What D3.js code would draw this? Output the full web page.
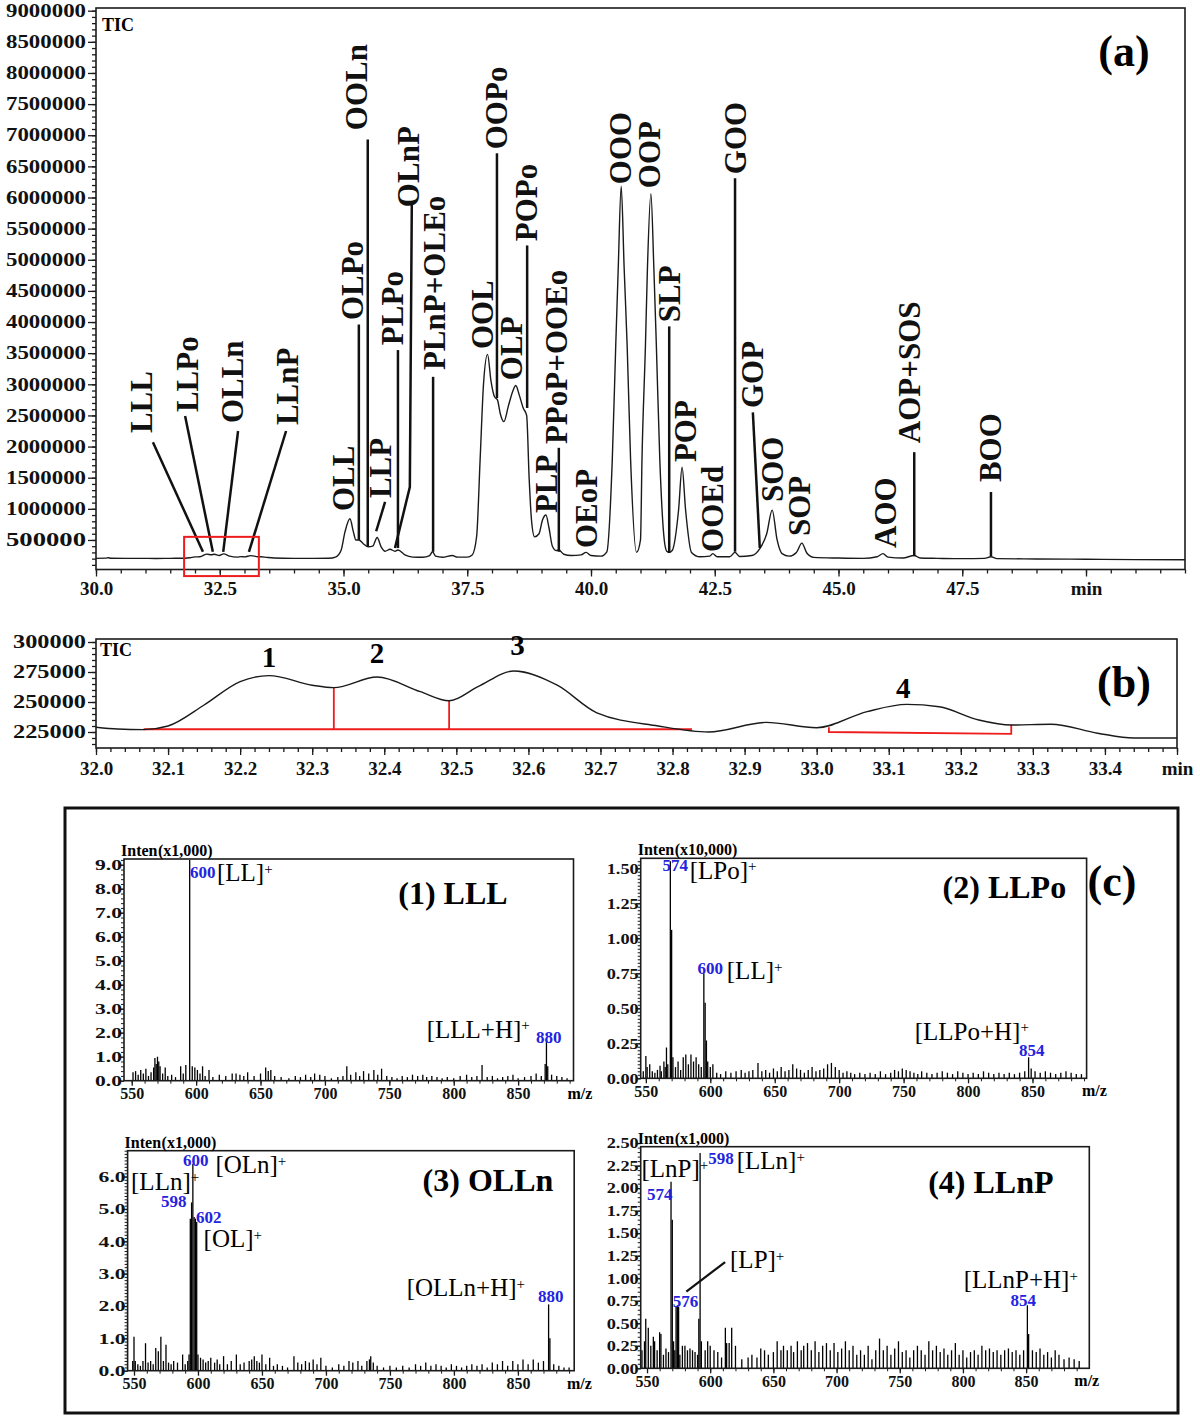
<!DOCTYPE html>
<html><head><meta charset="utf-8">
<script src="https://cdnjs.cloudflare.com/ajax/libs/d3/7.8.5/d3.min.js"></script>
<style>
html,body{margin:0;padding:0;background:#fff;}
svg{display:block;}
text{font-family:'Liberation Serif','Times New Roman',serif;}
</style></head><body>
<svg id="fig" width="1200" height="1426" xmlns="http://www.w3.org/2000/svg"></svg>
<script>
// ================= DATA =================
// Panel (a): TIC chromatogram, [retention time (min), intensity]
const ticA = [
 [30.0,205000],[30.2,208000],[30.25,215000],[30.3,206000],[30.6,204000],[30.9,205000],[31.2,203000],[31.5,205000],[31.8,207000],
 [31.9,215000],[32.0,228000],[32.1,230000],[32.24,272000],[32.33,262000],[32.39,271000],[32.49,251000],[32.58,276000],[32.7,240000],
 [32.85,225000],[32.93,233000],[33.0,228000],[33.13,248000],[33.27,231000],[33.33,231000],[33.45,220000],[33.6,210000],[34.0,205000],
 [34.4,204000],[34.7,206000],[34.85,230000],[34.95,330000],[35.03,630000],[35.13,840000],[35.2,630000],[35.25,500000],[35.31,500000],
 [35.4,440000],[35.5,390000],[35.59,400000],[35.68,540000],[35.76,390000],[35.84,320000],[35.94,350000],[36.04,320000],[36.1,340000],
 [36.24,260000],[36.4,225000],[36.6,222000],[36.74,250000],[36.8,310000],[36.86,240000],[37.0,222000],[37.2,250000],[37.3,225000],
 [37.5,225000],[37.6,260000],[37.69,560000],[37.76,1790000],[37.83,3020000],[37.91,3480000],[37.98,3050000],[38.05,2800000],
 [38.11,2750000],[38.17,2520000],[38.24,2400000],[38.33,2650000],[38.42,2890000],[38.48,2980000],[38.55,2830000],[38.63,2620000],
 [38.7,2500000],[38.75,1500000],[38.8,800000],[38.86,550000],[38.95,600000],[39.02,820000],[39.09,900000],[39.15,700000],[39.22,400000],
 [39.3,330000],[39.35,340000],[39.45,270000],[39.6,250000],[39.8,260000],[39.9,300000],[40.0,250000],[40.2,240000],
 [40.32,310000],[40.43,1790000],[40.5,3630000],[40.55,4860000],[40.61,6180000],[40.67,4860000],[40.73,3630000],[40.8,1790000],[40.92,300000],
 [41.0,500000],[41.03,1790000],[41.1,3630000],[41.14,4860000],[41.21,6060000],[41.27,4860000],[41.32,3630000],[41.39,1790000],[41.48,500000],
 [41.53,320000],[41.58,300000],[41.64,330000],[41.77,990000],[41.84,1670000],[41.91,990000],[42.03,300000],[42.2,230000],[42.4,240000],
 [42.46,280000],[42.55,230000],[42.8,230000],[42.91,300000],[43.0,235000],[43.25,250000],[43.41,360000],[43.55,600000],[43.66,980000],
 [43.76,500000],[43.86,280000],[44.0,240000],[44.15,300000],[44.26,450000],[44.36,290000],[44.5,220000],[45.0,210000],[45.5,205000],
 [45.78,230000],[45.9,280000],[46.0,225000],[46.3,210000],[46.53,250000],[46.65,210000],[47.0,205000],[47.5,200000],[47.95,205000],
 [48.08,230000],[48.2,200000],[49.0,195000],[50.0,190000],[51.0,185000],[52.0,182000]
];
const aYTicks = [500000,1000000,1500000,2000000,2500000,3000000,3500000,4000000,4500000,5000000,5500000,6000000,6500000,7000000,7500000,8000000,8500000,9000000];
const aXTicks = [30,32.5,35,37.5,40,42.5,45,47.5,50];
const aXTickLabels = ["30.0","32.5","35.0","37.5","40.0","42.5","45.0","47.5","min"];

// peak labels in (a): name, retention time of label, intensity at label foot
const aLabels   = ["LLL","LLPo","OLLn","LLnP","OLL","OLPo","OOLn","LLP","PLPo","OLnP","PLnP+OLEo","OOL","OOPo","OLP","POPo","PLP","PPoP+OOEo","OEoP","OOO","OOP","SLP","POP","OOEd","GOO","GOP","SOO","SOP","AOO","AOP+SOS","BOO"];
const aLabelRt  = [30.91,31.84,32.75,33.86,34.99,35.19,35.27,35.74,35.98,36.32,36.83,37.80,38.08,38.40,38.69,39.09,39.31,39.90,40.59,41.19,41.58,41.90,42.46,42.91,43.27,43.66,44.22,45.94,46.44,48.06];
const aLabelFoot= [2217000,2554000,2377000,2345000,964000,4031000,7081000,1173000,3629000,5845000,3228000,3565000,6775000,3067000,5298000,932000,2040000,371000,6213000,6149000,3998000,1751000,307000,6374000,2618000,1109000,563000,371000,2055000,1430000];
// leader lines in (a): polyline of [rt, intensity]
const aLeaders = [
 [[31.15,2070000],[32.16,310000]],
 [[31.80,2490000],[32.36,310000]],
 [[32.87,2250000],[32.57,310000]],
 [[33.84,2250000],[33.09,310000]],
 [[35.31,3960000],[35.31,500000]],
 [[35.49,6930000],[35.49,400000]],
 [[35.84,1110000],[35.66,640000]],
 [[36.10,3550000],[36.10,370000]],
 [[36.38,5910000],[36.34,1350000],[36.04,370000]],
 [[36.81,3120000],[36.81,310000]],
 [[38.10,6710000],[38.10,2780000]],
 [[38.71,5230000],[38.71,2620000]],
 [[39.35,1980000],[39.35,310000]],
 [[41.58,3930000],[41.58,290000]],
 [[42.91,6310000],[42.91,310000]],
 [[43.27,2550000],[43.41,370000]],
 [[46.53,1910000],[46.53,240000]],
 [[48.08,1270000],[48.08,240000]]
];
const aZoomBox = [[31.78,-80000],[33.29,550000]];

// Panel (b): zoomed TIC 32.0-33.5 min
const ticB = [
 [32.0,229000],[32.03,227500],[32.066,227000],[32.1,230000],[32.15,247500],[32.2,267000],[32.24,272000],[32.3,264000],[32.33,262000],
 [32.39,270800],[32.45,258600],[32.49,251000],[32.53,262800],[32.58,275800],[32.64,264000],[32.695,241000],[32.78,230000],[32.85,225000],
 [32.93,233000],[33.0,228600],[33.07,242000],[33.125,248000],[33.17,246000],[33.225,235000],[33.27,230800],[33.325,231500],[33.39,224000],
 [33.44,220000],[33.5,220000]
];
const bYTicks = [225000,250000,275000,300000];
const bXTicks = [32.0,32.1,32.2,32.3,32.4,32.5,32.6,32.7,32.8,32.9,33.0,33.1,33.2,33.3,33.4,33.5];
const bXTickLabels = ["32.0","32.1","32.2","32.3","32.4","32.5","32.6","32.7","32.8","32.9","33.0","33.1","33.2","33.3","33.4","min"];
const bIntegration = [
 [[32.066,227300],[32.827,227300]],
 [[32.33,227300],[32.33,262000]],
 [[32.49,227300],[32.49,251000]],
 [[33.017,229000],[33.017,225000],[33.27,223500],[33.27,231000]]
];
const bPeakNames = ["1","2","3","4"];
const bPeakRt    = [32.24,32.39,32.585,33.12];
const bPeakFoot  = [279000,282500,289200,253300];

// Panel (c): mass spectra sticks [m/z, intensity]
const ms1 = [[551,0.35],[553,0.4],[555,0.25],[557,0.45],[559,0.3],[561,0.5],[563,0.2],[565,0.35],[567,0.55],[568,0.95],[569,0.7],[570,1.0],[571,0.8],[572,0.6],[574,0.3],[576,0.55],[578,0.2],[581,0.25],[584,0.15],[588,0.6],[590,0.3],[592,0.65],[595,9.2],[597,0.6],[599,0.55],[601,0.45],[603,0.3],[605,0.6],[607,0.2],[610,0.45],[613,0.15],[618,0.25],[623,0.2],[628,0.3],[631,0.3],[634,0.25],[637,0.2],[640,0.35],[645,0.2],[650,0.3],[654,0.55],[656,0.4],[658,0.45],[661,0.2],[666,0.15],[672,0.1],[677,0.2],[681,0.15],[685,0.25],[689,0.15],[692,0.3],[696,0.25],[700,0.2],[705,0.1],[710,0.15],[714,0.2],[717,0.6],[720,0.25],[724,0.35],[727,0.2],[730,0.4],[734,0.3],[738,0.45],[741,0.25],[744,0.5],[748,0.2],[752,0.15],[756,0.1],[760,0.2],[764,0.15],[768,0.25],[772,0.2],[776,0.25],[779,0.15],[783,0.2],[787,0.15],[791,0.1],[795,0.15],[800,0.1],[805,0.2],[810,0.25],[814,0.15],[818,0.2],[822,0.65],[826,0.15],[830,0.2],[834,0.1],[838,0.15],[842,0.2],[846,0.25],[850,0.1],[855,0.15],[860,0.2],[864,0.3],[868,0.2],[871,0.7],[872,1.7],[873,0.6],[876,0.25],[880,0.2],[884,0.15],[888,0.1]];
const ms2 = [[548,0.05],[550,0.16],[551,0.08],[553,0.1],[555,0.05],[557,0.04],[559,0.06],[561,0.09],[562,0.05],[564,0.12],[565,0.08],[566,0.22],[567,0.1],[569,1.55],[570,1.06],[571,0.15],[573,0.08],[575,0.12],[577,0.06],[579,0.15],[581,0.17],[583,0.1],[585,0.17],[587,0.12],[589,0.15],[591,0.1],[593,0.08],[595,0.75],[596,0.54],[597,0.27],[598,0.12],[600,0.08],[602,0.1],[605,0.04],[608,0.03],[612,0.05],[616,0.04],[620,0.05],[624,0.06],[627,0.04],[630,0.05],[633,0.06],[637,0.11],[640,0.05],[643,0.06],[646,0.04],[649,0.07],[652,0.05],[655,0.08],[658,0.05],[661,0.06],[664,0.1],[667,0.07],[670,0.06],[673,0.04],[676,0.06],[679,0.08],[682,0.05],[685,0.06],[688,0.07],[691,0.1],[694,0.11],[697,0.08],[700,0.06],[703,0.04],[706,0.05],[709,0.04],[712,0.03],[716,0.04],[720,0.03],[724,0.04],[728,0.03],[732,0.05],[736,0.03],[740,0.04],[743,0.06],[746,0.05],[749,0.07],[752,0.06],[755,0.05],[758,0.04],[761,0.03],[764,0.05],[768,0.04],[772,0.03],[776,0.04],[780,0.05],[784,0.04],[788,0.03],[792,0.05],[796,0.04],[800,0.03],[804,0.04],[808,0.03],[812,0.05],[816,0.04],[820,0.03],[824,0.04],[828,0.03],[832,0.04],[836,0.03],[840,0.04],[844,0.05],[847,0.15],[849,0.07],[852,0.05],[856,0.04],[860,0.05],[864,0.04],[868,0.03],[872,0.04],[876,0.05],[880,0.04],[884,0.03],[888,0.03]];
const ms3 = [[549,0.3],[550,1.05],[551,0.3],[553,0.2],[555,0.15],[557,0.3],[559,0.85],[561,0.25],[563,0.3],[565,0.2],[567,0.7],[569,0.6],[571,1.05],[573,0.3],[575,0.8],[577,0.25],[579,0.2],[581,0.3],[584,0.25],[588,0.5],[590,0.2],[592,0.3],[593,0.5],[594,4.7],[595,5.2],[596,6.4],[597,4.75],[598,4.7],[599,4.6],[600,0.5],[602,0.4],[604,0.35],[606,0.25],[608,0.3],[610,0.4],[613,0.25],[615,0.35],[617,0.2],[620,0.45],[623,0.2],[626,0.3],[630,0.5],[633,0.2],[636,0.25],[640,0.3],[642,0.35],[644,0.45],[646,0.3],[648,0.25],[650,0.5],[653,0.2],[656,0.4],[659,0.15],[662,0.2],[666,0.15],[670,0.1],[675,0.45],[678,0.25],[681,0.2],[684,0.3],[687,0.25],[690,0.35],[693,0.2],[696,0.4],[700,0.15],[705,0.1],[710,0.2],[714,0.15],[718,0.3],[721,0.25],[725,0.3],[728,0.15],[732,0.3],[734,0.35],[735,0.45],[737,0.25],[740,0.15],[745,0.1],[750,0.15],[755,0.1],[760,0.15],[765,0.1],[770,0.2],[774,0.15],[778,0.25],[782,0.15],[786,0.2],[790,0.15],[794,0.1],[798,0.2],[802,0.15],[806,0.1],[810,0.15],[814,0.2],[818,0.15],[822,0.2],[826,0.1],[830,0.25],[834,0.2],[838,0.3],[842,0.15],[846,0.3],[850,0.2],[854,0.35],[858,0.2],[862,0.35],[866,0.25],[870,0.3],[874,2.05],[875,1.0],[878,0.2],[882,0.15],[886,0.1],[890,0.1]];
const ms4 = [[546,0.2],[548,0.3],[549,0.55],[551,0.45],[553,0.25],[555,0.35],[556,0.3],[558,0.2],[560,0.4],[561,0.38],[563,0.15],[565,0.22],[567,0.18],[569,2.07],[570,1.65],[571,0.3],[572,0.2],[573,0.68],[574,0.7],[575,0.68],[576,0.15],[578,0.25],[580,0.25],[582,0.2],[584,0.22],[586,0.2],[588,0.18],[590,0.15],[591,0.55],[592,2.39],[593,0.3],[596,0.2],[598,0.3],[600,0.25],[603,0.2],[606,0.18],[609,0.12],[612,0.45],[613,0.28],[615,0.28],[617,0.45],[620,0.25],[625,0.1],[630,0.12],[633,0.15],[637,0.12],[640,0.22],[643,0.2],[646,0.15],[650,0.18],[653,0.3],[656,0.2],[658,0.25],[661,0.2],[664,0.25],[666,0.18],[669,0.3],[672,0.2],[674,0.25],[677,0.28],[680,0.2],[683,0.3],[686,0.18],[689,0.25],[692,0.28],[695,0.2],[698,0.28],[701,0.18],[704,0.22],[707,0.3],[710,0.2],[713,0.25],[716,0.15],[719,0.2],[722,0.15],[725,0.25],[728,0.1],[731,0.2],[734,0.33],[737,0.2],[740,0.25],[743,0.15],[746,0.22],[749,0.3],[752,0.18],[755,0.2],[758,0.12],[761,0.2],[764,0.25],[767,0.2],[770,0.15],[773,0.3],[776,0.2],[779,0.25],[782,0.18],[785,0.22],[788,0.15],[791,0.2],[794,0.28],[797,0.15],[800,0.2],[803,0.12],[806,0.18],[809,0.2],[812,0.15],[815,0.25],[818,0.2],[821,0.22],[824,0.18],[827,0.2],[830,0.15],[833,0.2],[836,0.22],[839,0.18],[842,0.2],[845,0.15],[848,0.2],[851,0.7],[852,0.38],[855,0.2],[858,0.18],[861,0.22],[864,0.15],[867,0.18],[870,0.12],[873,0.2],[876,0.15],[880,0.1],[884,0.12],[888,0.1],[892,0.08]];
const msXTicks = [550,600,650,700,750,800,850];
// annotations: [text, m/z, intensity, kind]   kind: n = blue m/z number, i = ion label
const ann1 = [["600",595.2,8.45,"n"],["[LL]",616.2,8.32,"i"],["[LLL+H]",779,1.78,"i"],["880",863.9,1.57,"n"]];
const ann2 = [["574",563,1.48,"n"],["[LPo]",584,1.426,"i"],["600",590,0.745,"n"],["[LL]",612.8,0.706,"i"],["[LLPo+H]",758.6,0.277,"i"],["854",839.5,0.159,"n"]];
const ann3 = [["600",588.3,6.33,"n"],["[OLn]",613.6,6.11,"i"],["[LLn]",547.7,5.60,"i"],["598",571.1,5.05,"n"],["602",598.5,4.58,"n"],["[OL]",604.4,3.82,"i"],["[OLLn+H]",763.1,2.30,"i"],["880",865.7,2.11,"n"]];
const ann4 = [["[LnP]",545.6,2.12,"i"],["574",550,1.87,"n"],["598",598.5,2.27,"n"],["[LLn]",621,2.21,"i"],["[LP]",615.7,1.11,"i"],["576",570.4,0.676,"n"],["[LLnP+H]",800.6,0.89,"i"],["854",837.7,0.69,"n"]];
const lead4 = [[581.1,0.85],[611.8,1.18]];

// ================= DRAW =================
const FONT = "'Liberation Serif','Times New Roman',serif";
const ink = "#1b1b1b";
const svg = d3.select("#fig");
svg.append("rect").attr("width",1200).attr("height",1426).attr("fill","#fff");

function clean(g){
  g.select(".domain").remove();
  g.selectAll(".tick line").attr("stroke",ink).attr("stroke-width",1.3);
  g.selectAll(".tick text").attr("fill","#111").style("font-family",FONT).attr("font-weight","bold");
}

// ---------- Panel (a) ----------
const boxA = {l:96,t:8,r:1185,b:569.5};
const xA = d3.scaleLinear().domain([30,52]).range([boxA.l,boxA.r]);
const yA = d3.scaleLinear().domain([0,9000000]).range([571.1,10.7]);
const gA = svg.append("g");
gA.append("g").attr("transform",`translate(${boxA.l},0)`)
  .call(d3.axisLeft(yA).tickValues(d3.range(100000,9000001,100000)).tickSize(4).tickFormat("")).call(clean);
gA.append("g").attr("transform",`translate(${boxA.l},0)`)
  .call(d3.axisLeft(yA).tickValues(aYTicks).tickSize(8).tickPadding(2).tickFormat(d3.format("d"))).call(clean)
  .call(g=>g.selectAll(".tick text").attr("font-size",18).attr("textLength",80).attr("lengthAdjust","spacingAndGlyphs"));
gA.append("g").attr("transform",`translate(0,${boxA.b})`)
  .call(d3.axisBottom(xA).tickValues(d3.range(0,45).map(i=>30+i*0.5)).tickSize(4).tickFormat("")).call(clean);
gA.append("g").attr("transform",`translate(0,${boxA.b})`)
  .call(d3.axisBottom(xA).tickValues(aXTicks).tickSize(7).tickPadding(5).tickFormat((d,i)=>aXTickLabels[i])).call(clean)
  .call(g=>g.selectAll(".tick text").attr("font-size",19));
gA.append("rect").attr("x",boxA.l).attr("y",boxA.t).attr("width",boxA.r-boxA.l).attr("height",boxA.b-boxA.t)
  .attr("fill","none").attr("stroke",ink).attr("stroke-width",1.6);
gA.append("path").datum(ticA)
  .attr("d",d3.line().x(d=>xA(d[0])).y(d=>yA(d[1])).curve(d3.curveMonotoneX))
  .attr("fill","none").attr("stroke","#1a1a1a").attr("stroke-width",1.4);
gA.append("g").selectAll("path").data(aLeaders).join("path")
  .attr("d",d3.line().x(d=>xA(d[0])).y(d=>yA(d[1])))
  .attr("fill","none").attr("stroke","#111").attr("stroke-width",2.5);
gA.append("g").selectAll("text").data(aLabels).join("text")
  .attr("transform",(d,i)=>`translate(${xA(aLabelRt[i])},${yA(aLabelFoot[i])}) rotate(-90)`)
  .attr("dy","0.34em").attr("font-size",31).attr("font-weight","bold").attr("fill","#111")
  .text(d=>d);
gA.append("rect").attr("x",xA(aZoomBox[0][0])).attr("y",yA(aZoomBox[1][1]))
  .attr("width",xA(aZoomBox[1][0])-xA(aZoomBox[0][0])).attr("height",yA(aZoomBox[0][1])-yA(aZoomBox[1][1]))
  .attr("fill","none").attr("stroke","#ee1c1c").attr("stroke-width",2);
gA.append("text").attr("x",boxA.l+6).attr("y",boxA.t+23).attr("font-size",18).attr("font-weight","bold").text("TIC");
gA.append("text").attr("x",1124).attr("y",66).attr("text-anchor","middle").attr("font-size",44).attr("font-weight","bold").text("(a)");

// ---------- Panel (b) ----------
const boxB = {l:96,t:639,r:1177,b:748};
const xB = d3.scaleLinear().domain([32.0,33.5]).range([boxB.l,boxB.r]);
const yB = d3.scaleLinear().domain([211667,301667]).range([748,640]);
const gB = svg.append("g");
gB.append("g").attr("transform",`translate(${boxB.l},0)`)
  .call(d3.axisLeft(yB).tickValues(d3.range(215000,300001,5000)).tickSize(4).tickFormat("")).call(clean);
gB.append("g").attr("transform",`translate(${boxB.l},0)`)
  .call(d3.axisLeft(yB).tickValues(bYTicks).tickSize(8).tickPadding(2).tickFormat(d3.format("d"))).call(clean)
  .call(g=>g.selectAll(".tick text").attr("font-size",18).attr("textLength",73).attr("lengthAdjust","spacingAndGlyphs"));
gB.append("g").attr("transform",`translate(0,${boxB.b})`)
  .call(d3.axisBottom(xB).tickValues(d3.range(0,76).map(i=>32+i*0.02)).tickSize(4).tickFormat("")).call(clean);
gB.append("g").attr("transform",`translate(0,${boxB.b})`)
  .call(d3.axisBottom(xB).tickValues(bXTicks).tickSize(7).tickPadding(7).tickFormat((d,i)=>bXTickLabels[i])).call(clean)
  .call(g=>g.selectAll(".tick text").attr("font-size",19));
gB.append("rect").attr("x",boxB.l).attr("y",boxB.t).attr("width",boxB.r-boxB.l).attr("height",boxB.b-boxB.t)
  .attr("fill","none").attr("stroke",ink).attr("stroke-width",1.6);
gB.append("g").selectAll("path").data(bIntegration).join("path")
  .attr("d",d3.line().x(d=>xB(d[0])).y(d=>yB(d[1])))
  .attr("fill","none").attr("stroke","#ee1c1c").attr("stroke-width",1.8);
gB.append("path").datum(ticB)
  .attr("d",d3.line().x(d=>xB(d[0])).y(d=>yB(d[1])).curve(d3.curveMonotoneX))
  .attr("fill","none").attr("stroke","#1a1a1a").attr("stroke-width",1.4);
gB.append("g").selectAll("text").data(bPeakNames).join("text")
  .attr("x",(d,i)=>xB(bPeakRt[i])).attr("y",(d,i)=>yB(bPeakFoot[i]))
  .attr("text-anchor","middle").attr("font-size",29).attr("font-weight","bold").text(d=>d);
gB.append("text").attr("x",boxB.l+4).attr("y",boxB.t+17).attr("font-size",18).attr("font-weight","bold").text("TIC");
gB.append("text").attr("x",1124).attr("y",697).attr("text-anchor","middle").attr("font-size",44).attr("font-weight","bold").text("(b)");

// ---------- Panel (c) ----------
svg.append("rect").attr("x",65).attr("y",808).attr("width",1113).attr("height",605)
  .attr("fill","none").attr("stroke","#111").attr("stroke-width",3);
svg.append("text").attr("x",1112).attr("y",896).attr("text-anchor","middle").attr("font-size",44).attr("font-weight","bold").text("(c)");

function spectrum(cfg){
  const b = cfg.box;
  const g = svg.append("g");
  const x = d3.scaleLinear().domain(cfg.xDomain).range([b.l,b.r]);
  const y = d3.scaleLinear().domain(cfg.yDomain).range([b.b,b.t]);
  g.append("g").attr("transform",`translate(${b.l},0)`)
    .call(d3.axisLeft(y).tickValues(d3.range(0,Math.floor(cfg.yDomain[1]/cfg.yMinor)+1).map(i=>i*cfg.yMinor)).tickSize(3).tickFormat("")).call(clean)
    .call(g=>g.selectAll(".tick line").attr("stroke-width",1));
  g.append("g").attr("transform",`translate(${b.l},0)`)
    .call(d3.axisLeft(y).tickValues(cfg.yTicks).tickSize(5).tickPadding(-3).tickFormat(d3.format(cfg.yFmt))).call(clean)
    .call(g=>g.selectAll(".tick text").attr("font-size",15).attr("textLength",cfg.yLabW).attr("lengthAdjust","spacingAndGlyphs"));
  g.append("g").attr("transform",`translate(0,${b.b})`)
    .call(d3.axisBottom(x).tickValues(d3.range(550,891,10)).tickSize(3).tickFormat("")).call(clean)
    .call(g=>g.selectAll(".tick line").attr("stroke-width",1));
  g.append("g").attr("transform",`translate(0,${b.b})`)
    .call(d3.axisBottom(x).tickValues(msXTicks).tickSize(5).tickPadding(2).tickFormat(d3.format("d"))).call(clean)
    .call(g=>g.selectAll(".tick text").attr("font-size",16));
  g.append("text").attr("x",x(898)).attr("y",b.b+18).attr("text-anchor","middle").attr("font-size",16).attr("font-weight","bold").text("m/z");
  g.append("g").selectAll("line").data(cfg.sticks).join("line")
    .attr("x1",d=>x(d[0])).attr("x2",d=>x(d[0])).attr("y1",y(0)).attr("y2",d=>y(d[1]))
    .attr("stroke","#000").attr("stroke-width",1.3);
  g.append("rect").attr("x",b.l).attr("y",b.t).attr("width",b.r-b.l).attr("height",b.b-b.t)
    .attr("fill","none").attr("stroke",ink).attr("stroke-width",1.6);
  g.append("text").attr("x",b.l-3).attr("y",b.t-3).attr("font-size",16).attr("font-weight","bold").text("Inten");
  g.append("text").attr("x",b.l+34).attr("y",b.t-3).attr("font-size",16).attr("font-weight","bold").text(cfg.unit);
  if(cfg.lead){
    g.append("path").attr("d",d3.line().x(d=>x(d[0])).y(d=>y(d[1]))(cfg.lead)).attr("stroke","#111").attr("stroke-width",2.2).attr("fill","none");
  }
  cfg.ann.forEach(a=>{
    const t = g.append("text").attr("x",x(a[1])).attr("y",y(a[2]));
    if(a[3]==="n"){
      t.attr("font-size",17).attr("font-weight","bold").attr("fill","#2323e0").text(a[0]);
    } else {
      t.attr("font-size",25).attr("fill","#000").text(a[0]);
      t.append("tspan").attr("dy","-0.5em").attr("font-size","0.6em").text("+");
    }
  });
  g.append("text").attr("x",x(cfg.title[1])).attr("y",y(cfg.title[2])).attr("text-anchor","middle")
    .attr("font-size",32).attr("font-weight","bold").text(cfg.title[0]);
}

spectrum({box:{l:124,t:859,r:573.5,b:1080.7}, xDomain:[544,893], yDomain:[0,9.24], yMinor:0.2,
  yTicks:[0,1,2,3,4,5,6,7,8,9], yFmt:".1f", yLabW:27, sticks:ms1, unit:"(x1,000)", ann:ann1, title:["(1) LLL",799.4,7.36]});
spectrum({box:{l:640.7,t:858.3,r:1086.6,b:1078.3}, xDomain:[546,892], yDomain:[0,1.571], yMinor:0.025,
  yTicks:[0,0.25,0.5,0.75,1.0,1.25,1.5], yFmt:".2f", yLabW:32, sticks:ms2, unit:"(x10,000)", ann:ann2, title:["(2) LLPo",828.2,1.288]});
spectrum({box:{l:127.6,t:1150.7,r:574.2,b:1370.7}, xDomain:[545,894], yDomain:[0,6.8], yMinor:0.1,
  yTicks:[0,1,2,3,4,5,6], yFmt:".1f", yLabW:27, sticks:ms3, unit:"(x1,000)", ann:ann3, title:["(3) OLLn",826.6,5.56]});
spectrum({box:{l:640.7,t:1146.7,r:1089.3,b:1368.3}, xDomain:[545,900], yDomain:[0,2.46], yMinor:0.05,
  yTicks:[0,0.25,0.5,0.75,1.0,1.25,1.5,1.75,2.0,2.25,2.5], yFmt:".2f", yLabW:32, sticks:ms4, unit:"(x1,000)", ann:ann4, lead:lead4, title:["(4) LLnP",822.1,1.95]});
</script>
</body></html>
